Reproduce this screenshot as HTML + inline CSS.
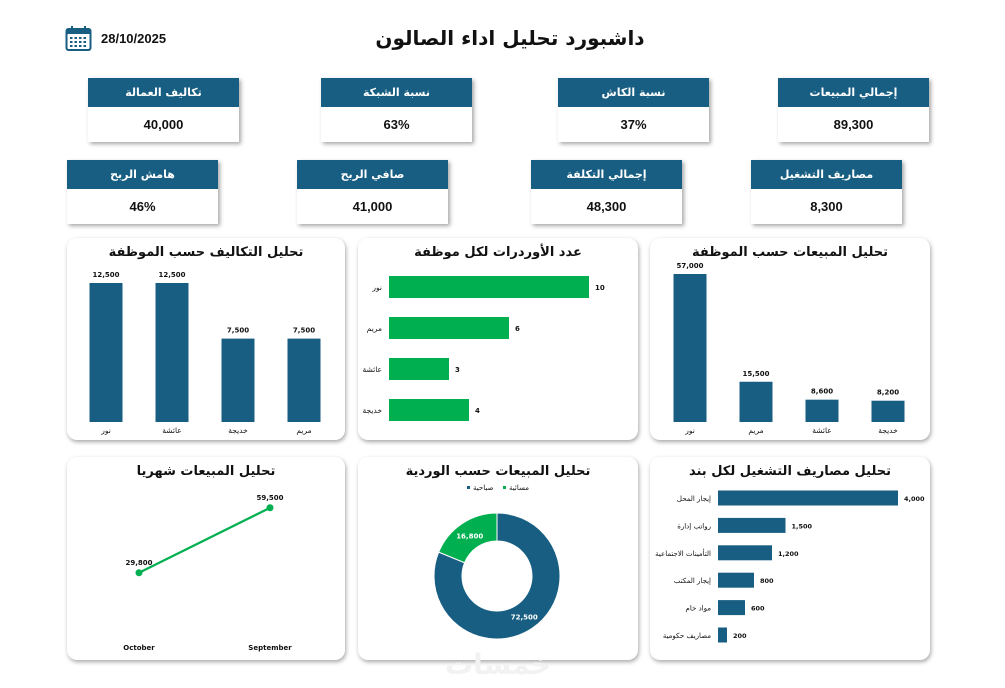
<!DOCTYPE html>
<html><head><meta charset="utf-8">
<style>
body{margin:0;width:1005px;height:688px;background:#fff;font-family:"Liberation Sans","DejaVu Sans",sans-serif;position:relative;overflow:hidden}
.abs{position:absolute}
.kpi{position:absolute;width:151px;height:64px;background:#fff;box-shadow:2px 2px 4px rgba(0,0,0,.35)}
.kpi .h{height:29px;background:#175e82;color:#fff;font:bold 11px "DejaVu Sans",sans-serif;line-height:29px;text-align:center}
.kpi .v{height:35px;text-align:center;font:bold 13px "Liberation Sans",sans-serif;line-height:36px;color:#111}
.panel{position:absolute;background:#fff;border-radius:10px;box-shadow:1px 2px 4px rgba(0,0,0,.35)}
svg text{font-family:"DejaVu Sans","Liberation Sans",sans-serif}
</style></head><body>
<div class="abs" style="left:330px;top:26px;width:360px;text-align:center;font:bold 20px 'DejaVu Sans',sans-serif;color:#111" dir="rtl">داشبورد تحليل اداء الصالون</div>
<svg class="abs" style="left:65px;top:25px" width="27" height="27" viewBox="0 0 27 27"><rect x="1.5" y="4" width="24" height="21" rx="2" fill="none" stroke="#175e82" stroke-width="2"/><rect x="1.5" y="4" width="24" height="5" fill="#175e82"/><rect x="6" y="1" width="2" height="6" fill="#175e82"/><rect x="19" y="1" width="2" height="6" fill="#175e82"/><g fill="#175e82"><rect x="5" y="12" width="2.5" height="2"/><rect x="9.5" y="12" width="2.5" height="2"/><rect x="14" y="12" width="2.5" height="2"/><rect x="18.5" y="12" width="2.5" height="2"/><rect x="5" y="16" width="2.5" height="2"/><rect x="9.5" y="16" width="2.5" height="2"/><rect x="14" y="16" width="2.5" height="2"/><rect x="18.5" y="16" width="2.5" height="2"/><rect x="5" y="20" width="2.5" height="2"/><rect x="9.5" y="20" width="2.5" height="2"/><rect x="14" y="20" width="2.5" height="2"/><rect x="18.5" y="20" width="2.5" height="2"/></g></svg>
<div class="abs" style="left:101px;top:31px;font:bold 13px 'Liberation Sans',sans-serif;color:#111">28/10/2025</div>

<div class="kpi" style="left:88px;top:78px"><div class="h">تكاليف العمالة</div><div class="v">40,000</div></div>
<div class="kpi" style="left:321px;top:78px"><div class="h">نسبة الشبكة</div><div class="v">63%</div></div>
<div class="kpi" style="left:558px;top:78px"><div class="h">نسبة الكاش</div><div class="v">37%</div></div>
<div class="kpi" style="left:778px;top:78px"><div class="h">إجمالي المبيعات</div><div class="v">89,300</div></div>
<div class="kpi" style="left:67px;top:160px"><div class="h">هامش الربح</div><div class="v">46%</div></div>
<div class="kpi" style="left:297px;top:160px"><div class="h">صافي الربح</div><div class="v">41,000</div></div>
<div class="kpi" style="left:531px;top:160px"><div class="h">إجمالي التكلفة</div><div class="v">48,300</div></div>
<div class="kpi" style="left:751px;top:160px"><div class="h">مصاريف التشغيل</div><div class="v">8,300</div></div>

<div class="panel" style="left:67px;top:238px;width:278px;height:202px"></div>
<div class="panel" style="left:358px;top:238px;width:280px;height:202px"></div>
<div class="panel" style="left:650px;top:238px;width:280px;height:202px"></div>
<div class="panel" style="left:67px;top:457px;width:278px;height:203px"></div>
<div class="panel" style="left:358px;top:457px;width:280px;height:203px"></div>
<div class="panel" style="left:650px;top:457px;width:280px;height:203px"></div>

<svg id="chart" class="abs" style="left:0;top:0" width="1005" height="688"></svg>
<div class="abs" style="left:445px;top:648px;font:bold 28px 'DejaVu Sans',sans-serif;color:#f2f2f2">خمسات</div>

<script>
const costNames=["نور","عائشة","خديجة","مريم"];
const costVals=[12500,12500,7500,7500];
const orderNames=["نور","مريم","عائشة","خديجة"];
const orderVals=[10,6,3,4];
const salesNames=["نور","مريم","عائشة","خديجة"];
const salesVals=[57000,15500,8600,8200];
const months=["October","September"];
const monthVals=[29800,59500];
const shiftNames=["صباحية","مسائية"];
const shiftVals=[72500,16800];
const expNames=["إيجار المحل","رواتب إدارة","التأمينات الاجتماعية","إيجار المكتب","مواد خام","مصاريف حكومية"];
const expVals=[4000,1500,1200,800,600,200];

const svg=document.getElementById('chart');
const NS='http://www.w3.org/2000/svg';
function el(tag,attrs,txt){const e=document.createElementNS(NS,tag);for(const k in attrs)e.setAttribute(k,attrs[k]);if(txt!==undefined)e.textContent=txt;svg.appendChild(e);return e;}
const fmt=v=>v.toLocaleString('en-US');
function title(x,y,t,n){const e=el('text',{x:x,y:y,'text-anchor':'middle','font-size':'13','font-weight':'bold',fill:'#111'},t);

}

title(206,256,'تحليل التكاليف حسب الموظفة','title-costs');
const c1x=i=>106+i*66, c1y=v=>422-v*0.01112;
costVals.forEach((v,i)=>{
 const r=el('rect',{x:c1x(i)-16.5,y:c1y(v),width:33,height:422-c1y(v),fill:'#175e82'});
 
 
 el('text',{x:c1x(i),y:c1y(v)-6,'text-anchor':'middle','font-size':'7','font-weight':'bold',fill:'#111'},fmt(v));
 el('text',{x:c1x(i),y:433,'text-anchor':'middle','font-size':'7.5',fill:'#111'},costNames[i]);
});

title(498,256,'عدد الأوردرات لكل موظفة','title-orders');
const c2w=v=>v*20, c2y=i=>287+i*41;
orderVals.forEach((v,i)=>{
 const r=el('rect',{x:389,y:c2y(i)-11,width:c2w(v),height:22,fill:'#00b050'});
 
 
 el('text',{x:389+c2w(v)+6,y:c2y(i)+3,'font-size':'7','font-weight':'bold',fill:'#111'},v);
 el('text',{x:382,y:c2y(i)+3,'text-anchor':'end','font-size':'7.5',fill:'#111'},orderNames[i]);
});

title(790,256,'تحليل المبيعات حسب الموظفة','title-sales-employee');
const c3x=i=>690+i*66, c3y=v=>422-v*148/57000;
salesVals.forEach((v,i)=>{
 const r=el('rect',{x:c3x(i)-16.5,y:c3y(v),width:33,height:422-c3y(v),fill:'#175e82'});
 
 
 el('text',{x:c3x(i),y:c3y(v)-6,'text-anchor':'middle','font-size':'7','font-weight':'bold',fill:'#111'},fmt(v));
 el('text',{x:c3x(i),y:433,'text-anchor':'middle','font-size':'7.5',fill:'#111'},salesNames[i]);
});

title(206,475,'تحليل المبيعات شهريا','title-monthly');
const c4x=i=>139+i*131, c4y=v=>638-v*65/29700;
let d='';
monthVals.forEach((v,i)=>{d+=(i?'L':'M')+c4x(i)+' '+c4y(v);});
const ln=el('path',{d:d,stroke:'#00b050','stroke-width':'2.2',fill:'none'});


monthVals.forEach((v,i)=>{
 const p=el('circle',{cx:c4x(i),cy:c4y(v),r:3.5,fill:'#00b050'});
 
 
 el('text',{x:c4x(i),y:c4y(v)-8,'text-anchor':'middle','font-size':'7','font-weight':'bold',fill:'#111'},fmt(v));
 el('text',{x:c4x(i),y:650,'text-anchor':'middle','font-size':'7','font-weight':'bold',fill:'#111','font-family':'Liberation Sans'},months[i]);
});

title(498,475,'تحليل المبيعات حسب الوردية','title-shift');
el('rect',{x:467,y:486,width:3,height:3,fill:'#175e82'});
el('text',{x:473,y:490,'font-size':'7',fill:'#111'},shiftNames[0]);
el('rect',{x:503,y:486,width:3,height:3,fill:'#00b050'});
el('text',{x:509,y:490,'font-size':'7',fill:'#111'},shiftNames[1]);
const cx=497,cy=576,R=63,r0=35;
const tot=shiftVals.reduce((a,b)=>a+b,0);
let a0=0;const cols=['#175e82','#00b050'];
shiftVals.forEach((v,i)=>{
 const a1=a0+v/tot*2*Math.PI;
 const P=(a,rr)=>[cx+rr*Math.sin(a),cy-rr*Math.cos(a)];
 const [x1,y1]=P(a0,R),[x2,y2]=P(a1,R),[x3,y3]=P(a1,r0),[x4,y4]=P(a0,r0);
 const lg=(a1-a0)>Math.PI?1:0;
 const s=el('path',{d:`M${x1} ${y1}A${R} ${R} 0 ${lg} 1 ${x2} ${y2}L${x3} ${y3}A${r0} ${r0} 0 ${lg} 0 ${x4} ${y4}Z`,fill:cols[i],stroke:'#fff','stroke-width':'1'});
 
 
 const m=(a0+a1)/2;const [lx,ly]=P(m,(R+r0)/2);
 el('text',{x:lx,y:ly+3,'text-anchor':'middle','font-size':'7','font-weight':'bold',fill:'#fff'},fmt(v));
 a0=a1;
});

title(790,475,'تحليل مصاريف التشغيل لكل بند','title-expenses');
const c6w=v=>v*0.045, c6y=i=>498+i*27.4;
expVals.forEach((v,i)=>{
 const r=el('rect',{x:718,y:c6y(i)-7.5,width:c6w(v),height:15,fill:'#175e82'});
 
 
 el('text',{x:718+c6w(v)+6,y:c6y(i)+3,'font-size':'6.5','font-weight':'bold',fill:'#111'},fmt(v));
 el('text',{x:711,y:c6y(i)+3,'text-anchor':'end','font-size':'7',fill:'#111'},expNames[i]);
});
</script>
</body></html>
